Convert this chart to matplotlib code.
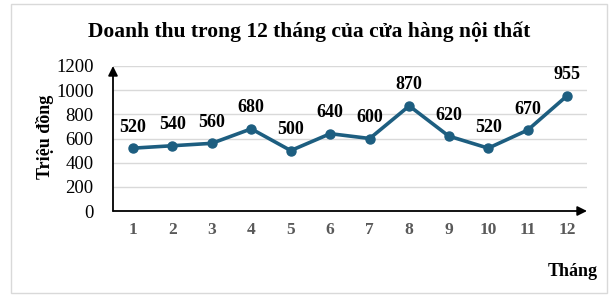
import matplotlib.pyplot as plt
from matplotlib.patches import Rectangle

months = list(range(1, 13))
revenue = [520, 540, 560, 680, 500, 640, 600, 870, 620, 520, 670, 955]
yticks = [0, 200, 400, 600, 800, 1000, 1200]

plt.rcParams['font.family'] = ['Liberation Serif', 'DejaVu Serif']

fig = plt.figure(figsize=(6.09, 2.98), dpi=100)
ax = fig.add_axes([113 / 609, 1 - 211 / 298, 474 / 609, 145 / 298])

# frame round the whole picture
fig.patches.append(Rectangle((11 / 609, 1 - 293 / 298), 596 / 609, 289 / 298,
                             transform=fig.transFigure, fill=False,
                             edgecolor='#d9d9d9', linewidth=1))

line_color = '#1d5e80'
ax.plot(months, revenue, color=line_color, linewidth=2.6, marker='o',
        markersize=6.5, zorder=3)
for m, v in zip(months, revenue):
    ax.annotate(str(v), (m, v), xytext=(0, 9), textcoords='offset points',
                ha='center', va='bottom', fontsize=13, fontweight='bold')

ax.set_xlim(0.5, 12.5)
ax.set_ylim(0, 1200)
ax.set_yticks(yticks)
ax.set_xticks(months)
ax.yaxis.grid(True, color='#d9d9d9', linewidth=1)
ax.set_axisbelow(True)
for s in ['top', 'right', 'left', 'bottom']:
    ax.spines[s].set_visible(False)
ax.tick_params(length=0)
ax.tick_params(axis='y', labelsize=13.5, pad=14)
ax.tick_params(axis='x', labelsize=12.5, labelcolor='#595959', pad=8)
for lbl in ax.get_xticklabels():
    lbl.set_fontweight('bold')

# axes with arrows
ax.annotate('', xy=(0, 1.0), xytext=(0, 0), xycoords='axes fraction',
            arrowprops=dict(arrowstyle='-|>', color='black', lw=1.3,
                            mutation_scale=14, shrinkA=0, shrinkB=0))
ax.annotate('', xy=(1.0, 0), xytext=(0, 0), xycoords='axes fraction',
            arrowprops=dict(arrowstyle='-|>', color='black', lw=1.3,
                            mutation_scale=14, shrinkA=0, shrinkB=0))

fig.text(309 / 609, 1 - 32 / 298, 'Doanh thu trong 12 tháng của cửa hàng nội thất',
         ha='center', va='center', fontsize=15.5, fontweight='bold')
fig.text(45 / 609, 1 - 137 / 298, 'Triệu đồng', rotation=90, ha='center',
         va='center', fontsize=13, fontweight='bold')
fig.text(598 / 609, 1 - 271 / 298, 'Tháng', ha='right', va='center',
         fontsize=13, fontweight='bold')

fig.savefig('out.png', dpi=100)
